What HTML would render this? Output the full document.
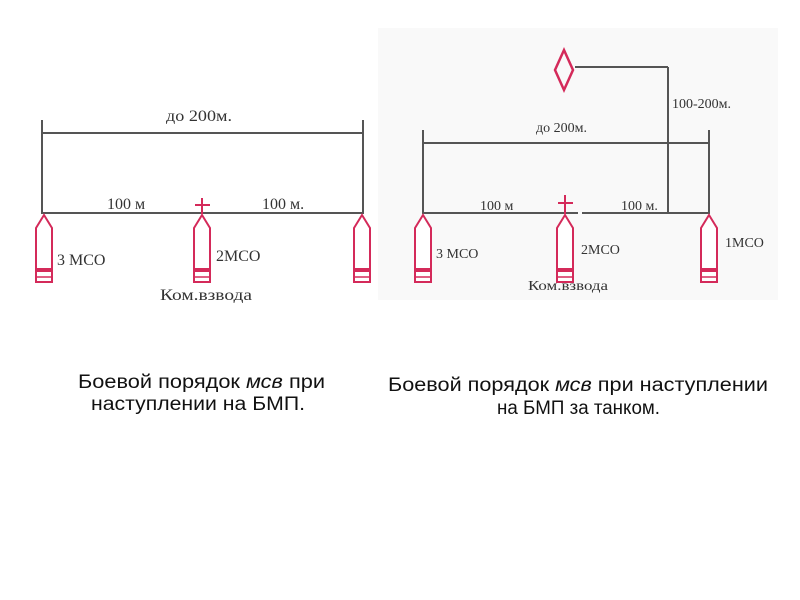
<!DOCTYPE html>
<html><head><meta charset="utf-8"><style>
html,body{margin:0;padding:0;background:#fff;width:800px;height:600px;overflow:hidden}
svg{display:block}
</style></head><body>
<svg width="800" height="600" viewBox="0 0 800 600" xmlns="http://www.w3.org/2000/svg">
<defs>
<g id="veh">
<polygon points="0,0 8,13 8,67 -8,67 -8,13" fill="#fff" stroke="#d42a5a" stroke-width="2"/>
<rect x="-8" y="53" width="16" height="4" fill="#d42a5a"/>
<line x1="-8" y1="62" x2="8" y2="62" stroke="#d42a5a" stroke-width="1.5"/>
</g>
</defs>
<rect x="378" y="28" width="400" height="272" fill="#f9f9f9"/>
<g stroke="#555" stroke-width="2" fill="none">
<line x1="42" y1="120" x2="42" y2="214"/>
<line x1="363" y1="120" x2="363" y2="214"/>
<line x1="42" y1="133" x2="363" y2="133"/>
<line x1="42" y1="213" x2="363" y2="213"/>
<line x1="423" y1="130" x2="423" y2="214"/>
<line x1="709" y1="130" x2="709" y2="214"/>
<line x1="423" y1="143" x2="709" y2="143"/>
<line x1="423" y1="213" x2="578" y2="213"/>
<line x1="582" y1="213" x2="709" y2="213"/>
<line x1="668" y1="67" x2="668" y2="213"/>
<line x1="575" y1="67" x2="668" y2="67"/>
</g>
<g stroke="#d42a5a" stroke-width="2">
<line x1="195" y1="205" x2="210" y2="205"/><line x1="202" y1="198" x2="202" y2="214"/>
<line x1="558" y1="203" x2="573" y2="203"/><line x1="565" y1="195" x2="565" y2="214"/>
</g>
<polygon points="564,50 573,70 564,90 555,70" fill="none" stroke="#d42a5a" stroke-width="2.5"/>
<use href="#veh" x="44" y="215"/>
<use href="#veh" x="202" y="215"/>
<use href="#veh" x="362" y="215"/>
<use href="#veh" x="423" y="215"/>
<use href="#veh" x="565" y="215"/>
<use href="#veh" x="709" y="215"/>
<g font-family="Liberation Serif, serif" font-size="16" fill="#333">
<text x="166" y="121" textLength="66" lengthAdjust="spacingAndGlyphs">до 200м.</text>
<text x="107" y="209">100 м</text>
<text x="262" y="209">100 м.</text>
<text x="57" y="265">3 МСО</text>
<text x="216" y="261">2МСО</text>
<text x="160" y="300" textLength="92" lengthAdjust="spacingAndGlyphs">Ком.взвода</text>
<text x="536" y="132" font-size="14">до 200м.</text>
<text x="672" y="108" font-size="14">100-200м.</text>
<text x="480" y="210" font-size="14">100 м</text>
<text x="621" y="210" font-size="14">100 м.</text>
<text x="436" y="258" font-size="14">3 МСО</text>
<text x="581" y="254" font-size="14">2МСО</text>
<text x="725" y="247" font-size="14">1МСО</text>
<text x="528" y="290" font-size="14" textLength="80" lengthAdjust="spacingAndGlyphs">Ком.взвода</text>
</g>
<g font-family="Liberation Sans, Arial, sans-serif" font-size="19" fill="#111">
<text x="78" y="388" textLength="247" lengthAdjust="spacingAndGlyphs">Боевой порядок <tspan font-style="italic">мсв</tspan> при</text>
<text x="91" y="410" textLength="214" lengthAdjust="spacingAndGlyphs">наступлении на БМП.</text>
<text x="388" y="391" textLength="380" lengthAdjust="spacingAndGlyphs">Боевой порядок <tspan font-style="italic">мсв</tspan> при наступлении</text>
<text x="497" y="414" textLength="163" lengthAdjust="spacingAndGlyphs">на БМП за танком.</text>
</g>
</svg>
</body></html>
